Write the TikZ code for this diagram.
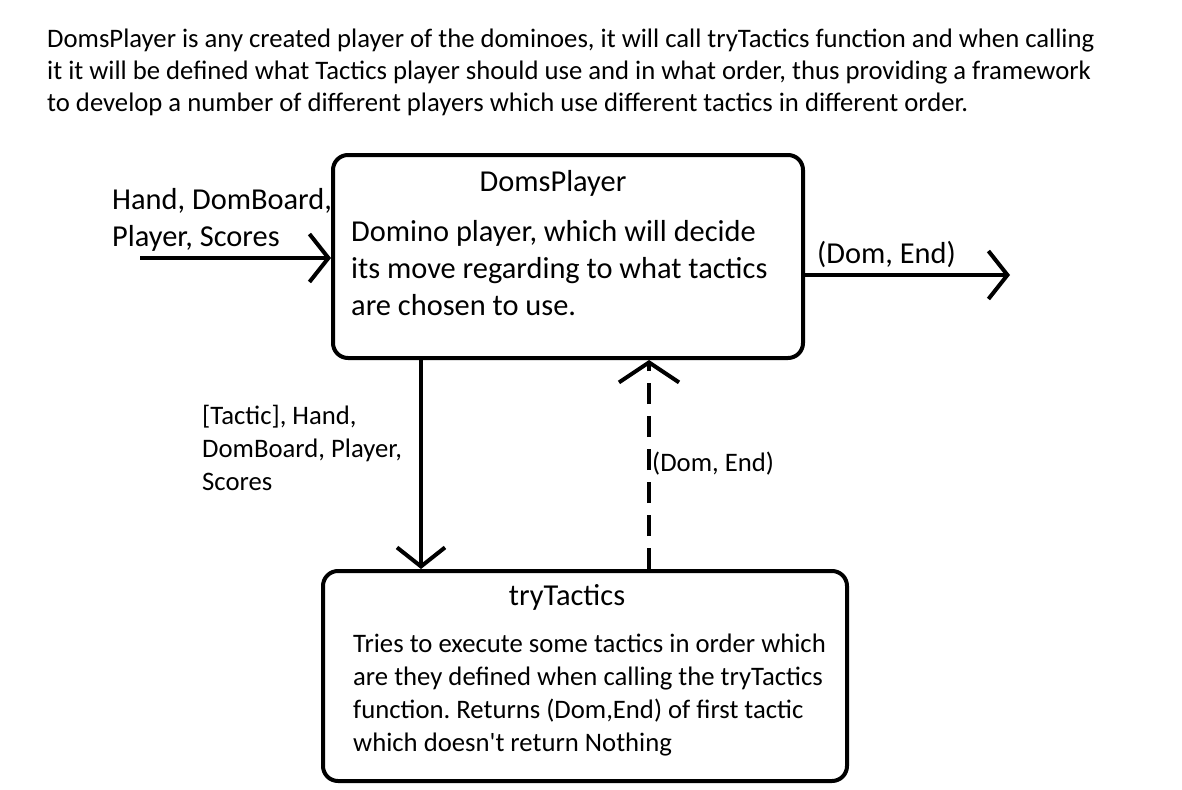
\documentclass[tikz,border=0pt]{standalone}
\usepackage{fontspec}
\setmainfont{Carlito}[Ligatures=TeXOff]
\usetikzlibrary{arrows.meta}
\frenchspacing
\begin{document}
\begin{tikzpicture}[x=1pt,y=-1pt,
  box/.style={draw,line width=4pt,rounded corners=15pt,inner sep=0pt},
  txt/.style={inner sep=0pt,anchor=north west,align=left},
  big/.style={font=\fontsize{30.4}{37}\selectfont},
  mid/.style={font=\fontsize{26.7}{33}\selectfont},
  conn/.style={line width=4pt,-{Straight Barb[length=19pt,width=48pt]}},
  dconn/.style={line width=4pt,dash pattern=on 21pt off 12pt,-{Straight Barb[length=20pt,width=60pt]}}]
\useasboundingbox[fill=white] (0,0) rectangle (1182,789);
\node[txt,font=\fontsize{26.7}{32}\selectfont] (intro) at (47,29) {DomsPlayer is any created player of the dominoes, it will call tryTactics function and when calling\\it it will be defined what Tactics player should use and in what order, thus providing a framework\\to develop a number of different players which use different tactics in different order.};
\node[box,minimum width=470pt,minimum height=203pt] (dp) at (568,256.5) {};
\node[box,minimum width=524pt,minimum height=210pt] (tt) at (585,676) {};
\node[inner sep=0pt,big] (dptitle) at (553,183) {DomsPlayer};
\node[txt,big] (dptext) at (351,220) {Domino player, which will decide\\its move regarding to what tactics\\are chosen to use.};
\node[inner sep=0pt,big] (tttitle) at (567,597) {tryTactics};
\node[txt,mid] (tttext) at (353,633.5) {Tries to execute some tactics in order which\\are they defined when calling the tryTactics\\function. Returns (Dom,End) of first tactic\\which doesn't return Nothing};
\node[txt,big] (inlab) at (112,188) {Hand, DomBoard,\\Player, Scores};
\node[txt,big] (outlab) at (817,241) {(Dom, End)};
\node[txt,mid] (downlab) at (202,405) {[Tactic], Hand,\\DomBoard, Player,\\Scores};
\node[txt,mid] (uplab) at (652,452) {(Dom, End)};
\coordinate (in) at (140,258);
\coordinate (out) at (1010,275);
\draw[conn] (in) -- (in -| dp.west);
\draw[conn] (dp.east |- out) -- (out);
\draw[conn] (dp.south -| 421,0) -- (tt.north -| 421,0);
\draw[dconn] (tt.north -| 649,0) -- (dp.south -| 649,0);
\end{tikzpicture}
\end{document}
